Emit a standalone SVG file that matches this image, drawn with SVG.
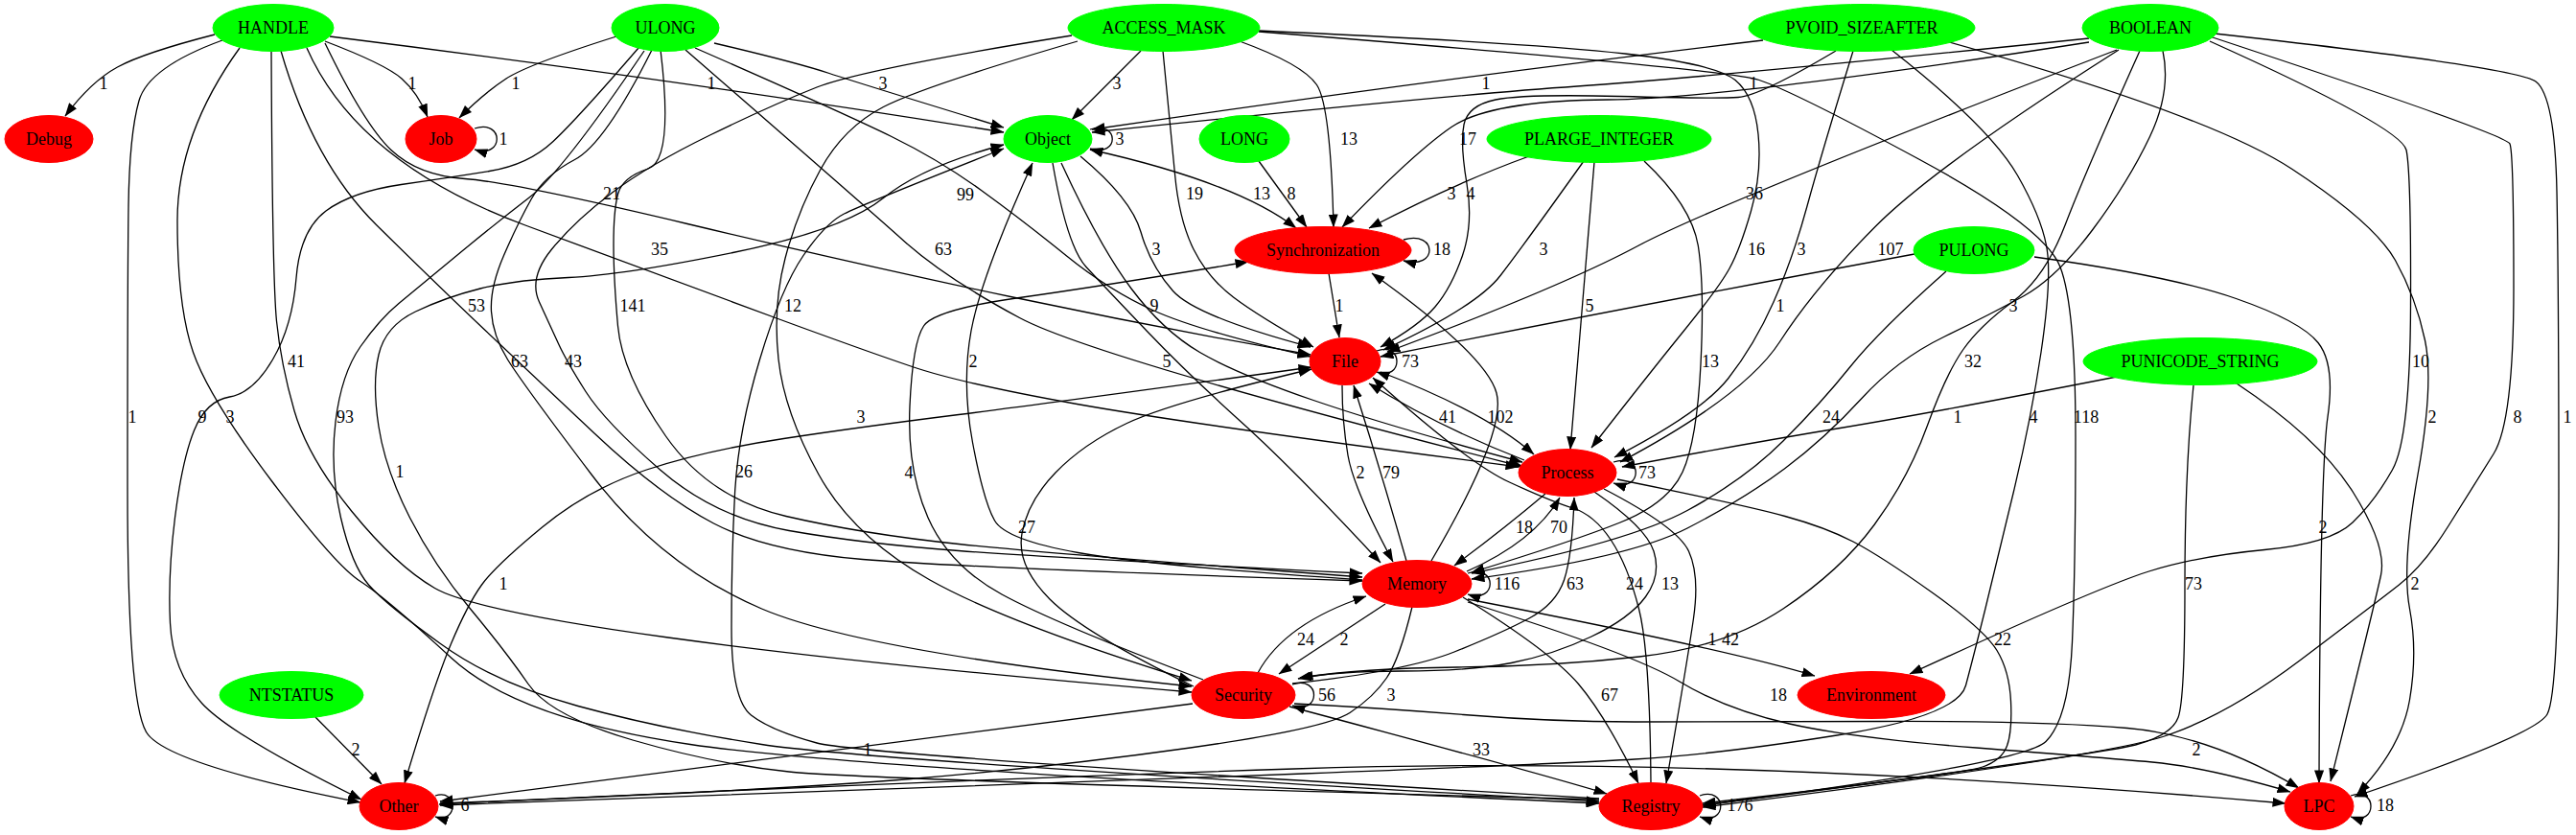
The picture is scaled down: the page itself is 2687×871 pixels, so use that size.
<svg xmlns="http://www.w3.org/2000/svg" width="2687" height="871" viewBox="0 0 2687 871">
<defs>
<marker id="ah" markerUnits="userSpaceOnUse" markerWidth="14" markerHeight="10" viewBox="0 0 14 10" refX="13.5" refY="5" orient="auto-start-reverse"><path d="M0,0 L14,5 L0,10 z" fill="#000"/></marker>
<style>
.e path{fill:none;stroke:#000;stroke-width:1.3;marker-end:url(#ah)}
.e path.both{marker-start:url(#ah)}
.e path.nm{marker-end:none}
.e text{font-family:"Liberation Serif","Times New Roman",serif;font-size:18px;text-anchor:middle;fill:#000}
.n text{font-family:"Liberation Serif","Times New Roman",serif;font-size:18px;text-anchor:middle;fill:#000}
.g ellipse{fill:#00ff00;stroke:#00ff00}
.r ellipse{fill:#ff0000;stroke:#ff0000}
</style>
</defs>
<rect width="2687" height="871" fill="#fff"/>
<g id="edges" class="e">
<path d="M224,36 Q150,55 122.5,70 Q95,85 68,121"/>
<path d="M339,43 Q402,67 419,82 Q436,97 446,122"/>
<path d="M643,38 Q551,67 528,82 Q505,97 479,123"/>
<path d="M495,134 C526,124 526,166 495,156"/>
<path d="M344,38 Q720,85 1047,138"/>
<path d="M745,45 Q830,65 865,76.5 Q900,88 1047,133"/>
<path d="M1190,53 L1118,125"/>
<path d="M1839,42 Q1500,82 1139,135"/>
<path d="M2179,40 Q1790,80 1645,90 Q1500,100 1139,138"/>
<path d="M1137,135 C1168,125 1168,165 1137,155"/>
<path d="M1293,43 Q1359,67 1373.5,88.5 Q1388,110 1391,237"/>
<path class="both" d="M1137,156 Q1290,190 1352,238"/>
<path d="M1313,168 L1363,237"/>
<path d="M1595,163 Q1520,190 1428,238"/>
<path d="M2179,44 Q1800,103 1677,104 Q1554,105 1514,132.5 Q1474,160 1400,237"/>
<path d="M1213,53 Q1221,133 1225.5,181.5 Q1230,230 1245,260 Q1260,290 1286.5,310 Q1313,330 1370,362"/>
<path d="M1313,32 Q1600,45 1695,56 Q1790,67 1810,83.5 Q1830,100 1834,140 Q1838,180 1826.5,220 Q1815,260 1804,280 Q1793,300 1756.5,345 Q1720,390 1660,467"/>
<path d="M1933,53 Q1900,160 1885,215 Q1870,270 1850,315 Q1830,360 1802.5,395 Q1775,430 1684,477"/>
<path d="M2210,52 Q2019,173 1956,236.5 Q1893,300 1856.5,356.5 Q1820,413 1690,482"/>
<path d="M2208,52 Q1790,213 1708.5,256.5 Q1627,300 1447,367"/>
<path d="M1652,168 Q1590,255 1565,287.5 Q1540,320 1443,365"/>
<path d="M1915,53 Q1836,100 1813,101.5 Q1790,103 1689.5,100.5 Q1589,98 1560,104 Q1531,110 1527,130 Q1523,150 1530,191.5 Q1537,233 1525.5,266.5 Q1514,300 1497,320 Q1480,340 1440,362"/>
<path d="M1386,285 L1397,352"/>
<path d="M1464,250 C1500,240 1500,282 1464,272"/>
<path d="M1127,163 Q1180,207 1190,242 Q1200,277 1223.5,303.5 Q1247,330 1367,362"/>
<path d="M1098,170 Q1113,257 1133,278.5 Q1153,300 1196,345 Q1239,390 1294.5,440 Q1350,490 1440,587"/>
<path d="M1107,170 Q1147,257 1180,301 Q1213,345 1251.5,367.5 Q1290,390 1370,417.5 Q1450,445 1588,482"/>
<path d="M1400,402 Q1400,440 1406,475 Q1412,510 1453,586"/>
<path d="M1467,585 Q1440,490 1412,402"/>
<path d="M1590,480 Q1500,445 1428,400"/>
<path d="M1440,388 Q1550,430 1600,474"/>
<path d="M1493,585 Q1572,450 1561,410 Q1550,370 1431,285"/>
<path d="M1436,366 C1464,356 1464,398 1436,388"/>
<path d="M1683,482 C1714,472 1714,514 1683,504"/>
<path d="M1531,598 C1562,588 1562,630 1531,620"/>
<path d="M1348,714 C1378,704 1378,746 1348,736"/>
<path d="M1773,830 C1802,820 1802,862 1773,852"/>
<path d="M2452,830 C2480,820 2480,862 2452,852"/>
<path d="M454,830 C478,822 478,860 454,852"/>
<path d="M1612,515 Q1567,553 1517,590"/>
<path d="M1530,596 Q1600,565 1627,519"/>
<path d="M1348,713 Q1467,700 1517,680 Q1567,660 1595,645 Q1623,630 1631.5,605 Q1640,580 1642,519"/>
<path d="M1663,513 Q1717,550 1725,575 Q1733,600 1716.5,622.5 Q1700,645 1660,664 Q1620,683 1576.5,691.5 Q1533,700 1463,700 Q1393,700 1354,708"/>
<path d="M1445,630 L1334,703"/>
<path d="M1312,702 Q1340,650 1425,622"/>
<path d="M1473,633 Q1460,687 1446.5,707 Q1433,727 1408,743.5 Q1383,760 1241.5,780 Q1100,800 950,812.5 Q800,825 459,838"/>
<path d="M1244,734 Q900,777 459,836"/>
<path d="M1973,52 Q2076,133 2104.5,183 Q2133,233 2136,266.5 Q2139,300 2129,367.5 Q2119,435 2100.5,512.5 Q2082,590 2070.5,636.5 Q2059,683 2050.5,715 Q2042,747 1916,767 Q1790,787 1705,792 Q1620,797 1360,807 Q1100,817 459,840"/>
<path d="M1345,737 Q1600,805 1676,828"/>
<path d="M1526,623 Q1618,680 1646.5,713.5 Q1675,747 1709,817"/>
<path d="M1673,510 Q1750,550 1761.5,575 Q1773,600 1766.5,645 Q1760,690 1738,817"/>
<path d="M1722,817 Q1721,680 1709.5,635 Q1698,590 1680.5,563.5 Q1663,537 1640.5,530 Q1618,523 1574.5,503 Q1531,483 1432,394"/>
<path d="M1687,500 Q1820,527 1862,538.5 Q1904,550 1933,565 Q1962,580 2016,618.5 Q2070,657 2083,678.5 Q2096,700 2097.5,731.5 Q2099,763 2093.5,778 Q2088,793 2068,800 Q2048,807 1776,838"/>
<path d="M1531,625 Q1800,677 1893,705"/>
<path d="M1531,628 Q1704,682 1752,711 Q1800,740 1866.5,755 Q1933,770 2061.5,780 Q2190,790 2245,795 Q2300,800 2389,826"/>
<path d="M1350,734 Q1433,738 1526.5,745.5 Q1620,753 1705,753 Q1790,753 1961.5,752.5 Q2133,752 2219,759.5 Q2305,767 2398,822"/>
<path d="M458,839 Q900,817 1350,802 Q1800,787 2384,838"/>
<path d="M2208,393 Q2019,430 1919.5,446.5 Q1820,463 1692,487"/>
<path d="M2288,402 Q2279,490 2279,610 Q2279,730 2272,748.5 Q2265,767 2227.5,777 Q2190,787 1776,840"/>
<path d="M2333,400 Q2419,457 2454.5,513.5 Q2490,570 2483.5,600 Q2477,630 2431,815"/>
<path d="M2030,43 Q2305,120 2391,176.5 Q2477,233 2498.5,271.5 Q2520,310 2529.5,355 Q2539,400 2522,495 Q2505,590 2513.5,635 Q2522,680 2513.5,730 Q2505,780 2459,828"/>
<path d="M2122,268 Q2265,288 2332.5,311.5 Q2400,335 2418,357.5 Q2436,380 2428,435 Q2420,490 2419,817"/>
<path d="M1997,265 Q1700,320 1440,372"/>
<path d="M2030,283 Q1960,345 1930,382.5 Q1900,420 1860,460 Q1820,500 1760,532.5 Q1700,565 1535,598"/>
<path d="M1663,169 Q1650,330 1638,469"/>
<path d="M1715,168 Q1765,215 1771.5,257.5 Q1778,300 1774,380 Q1770,460 1755,492.5 Q1740,525 1690,545 Q1640,565 1535,597"/>
<path d="M2256,53 Q2265,95 2242.5,142.5 Q2220,190 2182.5,240 Q2145,290 2110.5,309 Q2076,328 2027.5,351.5 Q1979,375 1941.5,416 Q1904,457 1862,488.5 Q1820,520 1760,551 Q1700,582 1535,604"/>
<path d="M2232,53 Q2175,180 2154,235 Q2133,290 2099,315 Q2065,340 2047.5,365 Q2030,390 2010,445 Q1990,500 1955,547.5 Q1920,595 1860,635 Q1800,675 1710,685 Q1620,695 1520,696 Q1420,697 1356,707"/>
<path d="M2305,43 Q2505,133 2510,156.5 Q2515,180 2514.5,318.5 Q2514,457 2495.5,490 Q2477,523 2454,545 Q2431,567 2362,573.5 Q2293,580 2241.5,596 Q2190,612 1992,703"/>
<path d="M2305,38 Q2614,140 2618,150 Q2622,160 2622,300 Q2622,440 2601,473.5 Q2580,507 2554,548.5 Q2528,590 2502.5,610 Q2477,630 2399.5,688.5 Q2322,747 2256,768.5 Q2190,790 1776,842"/>
<path d="M2310,35 Q2625,70 2645,85 Q2665,100 2667,200 Q2669,300 2669,511.5 Q2669,723 2657,745 Q2645,767 2456,831"/>
<path d="M1313,33 Q1800,72 1835,83.5 Q1870,95 2001.5,166 Q2133,237 2149,278.5 Q2165,320 2165,455 Q2165,590 2161.5,670 Q2158,750 2134,773.5 Q2110,797 1776,840"/>
<path d="M1255,709 Q1100,650 1045,620 Q990,590 968,540 Q946,490 949,423.5 Q952,357 963.5,340 Q975,323 1063.5,310.5 Q1152,298 1302,273"/>
<path d="M1245,716 Q1130,660 1095,625 Q1060,590 1066,556.5 Q1072,523 1101,493 Q1130,463 1175.5,441.5 Q1221,420 1368,385"/>
<path d="M1421,605 Q1200,590 1124.5,576.5 Q1049,563 1037.5,543 Q1026,523 1014.5,461.5 Q1003,400 1013,345 Q1023,290 1077,170"/>
<path class="both" d="M1368,383 Q1100,420 1000,432.5 Q900,445 817.5,457.5 Q735,470 674.5,490 Q614,510 565.5,550 Q517,590 502.5,610 Q488,630 470.5,671.5 Q453,713 422,817"/>
<path d="M1668,833 Q900,788 852,775 Q804,762 783.5,746 Q763,730 763,655 Q763,580 766.5,515 Q770,450 792.5,375 Q815,300 838,266.5 Q861,233 880.5,223 Q900,213 1047,155"/>
<path d="M1668,834 Q900,813 823,805 Q746,797 660,772 Q574,747 551,713.5 Q528,680 490.5,635 Q453,590 427.5,540 Q402,490 395,445 Q388,400 395,370 Q402,340 433.5,325 Q465,310 501,301 Q537,292 593,289.5 Q649,287 764.5,263.5 Q880,240 921.5,206.5 Q963,173 1047,151"/>
<path d="M232,42 Q155,70 145,105 Q135,140 134,215 Q133,290 133,510 Q133,730 152.5,763.5 Q172,797 376,837"/>
<path d="M250,50 Q185,140 185,230 Q185,320 201.5,367.5 Q218,415 284,502.5 Q350,590 376,606.5 Q402,623 471,686.5 Q540,750 720,776.5 Q900,803 1668,838"/>
<path d="M666,50 Q603,123 577,147.5 Q551,172 510.5,178.5 Q470,185 418.5,192.5 Q367,200 340,220 Q313,240 309,290 Q305,340 284.5,375 Q264,410 239.5,414 Q215,418 202.5,449 Q190,480 182.5,540 Q175,600 177.5,650 Q180,700 210.5,733.5 Q241,767 377,834"/>
<path d="M283,53 Q284,290 288.5,335 Q293,380 307,428.5 Q321,477 367,533.5 Q413,590 453.5,613.5 Q494,637 697,665 Q900,693 1243,722"/>
<path d="M672,53 Q586,180 551.5,206.5 Q517,233 476.5,266.5 Q436,300 416,316.5 Q396,333 376,361.5 Q356,390 350,440 Q344,490 355.5,540 Q367,590 384.5,610 Q402,630 459.5,671.5 Q517,713 603,736.5 Q689,760 794.5,776.5 Q900,793 1668,836"/>
<path d="M680,52 Q631,150 599.5,166.5 Q568,183 554,208 Q540,233 525.5,266.5 Q511,300 512.5,325 Q514,350 529.5,375 Q545,400 617,495 Q689,590 794.5,635 Q900,680 1243,716"/>
<path d="M689,52 Q703,167 676,176 Q649,185 644.5,202.5 Q640,220 640,255 Q640,290 644.5,340 Q649,390 694.5,455 Q740,520 820,538.5 Q900,557 1000,567.5 Q1100,578 1421,602"/>
<path d="M1118,37 Q900,72 852,91 Q804,110 740.5,141 Q677,172 638.5,201 Q600,230 575.5,260 Q551,290 562.5,315 Q574,340 582.5,358.5 Q591,377 611,408.5 Q631,440 688.5,490 Q746,540 823,553.5 Q900,567 1000,574.5 Q1100,582 1421,598"/>
<path d="M1124,43 Q963,90 921.5,111.5 Q880,133 856,176.5 Q832,220 819,269.5 Q806,319 812,374.5 Q818,430 854,495 Q890,560 970,605 Q1050,650 1243,710"/>
<path d="M339,45 Q380,130 408,156.5 Q436,183 485,186.5 Q534,190 717,233.5 Q900,277 1056.5,310 Q1213,343 1367,370"/>
<path d="M320,50 Q373,170 548,235 Q723,300 811.5,332.5 Q900,365 951.5,382.5 Q1003,400 1123.5,421.5 Q1244,443 1584,487"/>
<path d="M293,53 Q327,170 393,235 Q459,300 505,343.5 Q551,387 620,452 Q689,517 744.5,546 Q800,575 900,583.5 Q1000,592 1421,606"/>
<path d="M725,50 Q880,118 930,142.5 Q980,167 1023.5,198.5 Q1067,230 1112,266.5 Q1157,303 1203.5,324 Q1250,345 1367,372"/>
<path d="M715,52 Q900,213 943,251.5 Q986,290 1063.5,331.5 Q1141,373 1589,487"/>
<path d="M329,748 L398,818"/>
<text x="108" y="93">1</text><text x="430" y="93">1</text><text x="538" y="93">1</text><text x="742" y="93">1</text>
<text x="921" y="93">3</text><text x="1165" y="93">3</text><text x="1550" y="93">1</text><text x="1829" y="93">1</text>
<text x="525" y="151">1</text><text x="1168" y="151">3</text><text x="1407" y="151">13</text><text x="1531" y="151">17</text>
<text x="638" y="208">21</text><text x="1007" y="209">99</text><text x="1246" y="208">19</text><text x="1316" y="208">13</text>
<text x="1347" y="208">8</text><text x="1514" y="208">3</text><text x="1534" y="208">4</text><text x="1830" y="208">36</text>
<text x="688" y="266">35</text><text x="984" y="266">63</text><text x="1206" y="266">3</text><text x="1504" y="266">18</text>
<text x="1610" y="266">3</text><text x="1832" y="266">16</text><text x="1879" y="266">3</text><text x="1972" y="266">107</text>
<text x="497" y="325">53</text><text x="660" y="325">141</text><text x="827" y="325">12</text><text x="1397" y="325">1</text>
<text x="1204" y="325">9</text><text x="1658" y="325">5</text><text x="2100" y="325">3</text><text x="1857" y="325">1</text>
<text x="309" y="383">41</text><text x="542" y="383">63</text><text x="598" y="383">43</text><text x="1015" y="383">2</text>
<text x="1217" y="383">5</text><text x="1471" y="383">73</text><text x="1784" y="383">13</text><text x="2058" y="383">32</text>
<text x="2525" y="383">10</text>
<text x="138" y="441">1</text><text x="211" y="441">9</text><text x="240" y="441">3</text><text x="360" y="441">93</text>
<text x="898" y="441">3</text><text x="1510" y="441">41</text><text x="1565" y="441">102</text><text x="1910" y="441">24</text>
<text x="2042" y="441">1</text><text x="2121" y="441">4</text><text x="2176" y="441">118</text><text x="2537" y="441">2</text>
<text x="2626" y="441">8</text><text x="2678" y="441">1</text>
<text x="417" y="498">1</text><text x="776" y="498">26</text><text x="948" y="499">4</text><text x="1419" y="499">2</text>
<text x="1451" y="499">79</text><text x="1718" y="499">73</text>
<text x="1071" y="556">27</text><text x="1590" y="556">18</text><text x="1626" y="556">70</text><text x="2423" y="556">2</text>
<text x="525" y="615">1</text><text x="1572" y="615">116</text><text x="1643" y="615">63</text><text x="1705" y="615">24</text>
<text x="1742" y="615">13</text><text x="2288" y="615">73</text><text x="2519" y="615">2</text>
<text x="1362" y="673">24</text><text x="1402" y="673">2</text><text x="1786" y="673">1</text><text x="1805" y="673">42</text>
<text x="2089" y="673">22</text>
<text x="1384" y="731">56</text><text x="1451" y="731">3</text><text x="1855" y="731">18</text><text x="1679" y="731">67</text>
<text x="371" y="788">2</text><text x="905" y="788">1</text><text x="1545" y="788">33</text><text x="2291" y="788">2</text>
<text x="485" y="846">6</text><text x="1815" y="846">176</text><text x="2488" y="846">18</text>
</g>
<g id="node-HANDLE" class="n g"><ellipse cx="285" cy="29" rx="63" ry="24.5"/><text x="285" y="35">HANDLE</text></g>
<g id="node-ULONG" class="n g"><ellipse cx="694" cy="29" rx="56" ry="24.5"/><text x="694" y="35">ULONG</text></g>
<g id="node-ACCESS_MASK" class="n g"><ellipse cx="1214" cy="29" rx="100" ry="24.5"/><text x="1214" y="35">ACCESS_MASK</text></g>
<g id="node-PVOID_SIZEAFTER" class="n g"><ellipse cx="1942" cy="29" rx="118" ry="24.5"/><text x="1942" y="35">PVOID_SIZEAFTER</text></g>
<g id="node-BOOLEAN" class="n g"><ellipse cx="2243" cy="29" rx="71" ry="24.5"/><text x="2243" y="35">BOOLEAN</text></g>
<g id="node-Debug" class="n r"><ellipse cx="51" cy="145" rx="46" ry="24.5"/><text x="51" y="151">Debug</text></g>
<g id="node-Job" class="n r"><ellipse cx="460" cy="145" rx="37" ry="24.5"/><text x="460" y="151">Job</text></g>
<g id="node-Object" class="n g"><ellipse cx="1093" cy="145" rx="46" ry="24.5"/><text x="1093" y="151">Object</text></g>
<g id="node-LONG" class="n g"><ellipse cx="1298" cy="145" rx="47" ry="24.5"/><text x="1298" y="151">LONG</text></g>
<g id="node-PLARGE_INTEGER" class="n g"><ellipse cx="1668" cy="145" rx="117" ry="24.5"/><text x="1668" y="151">PLARGE_INTEGER</text></g>
<g id="node-Synchronization" class="n r"><ellipse cx="1380" cy="261" rx="92" ry="24.5"/><text x="1380" y="267">Synchronization</text></g>
<g id="node-PULONG" class="n g"><ellipse cx="2059" cy="261" rx="63" ry="24.5"/><text x="2059" y="267">PULONG</text></g>
<g id="node-File" class="n r"><ellipse cx="1403" cy="377" rx="37" ry="24.5"/><text x="1403" y="383">File</text></g>
<g id="node-PUNICODE_STRING" class="n g"><ellipse cx="2295" cy="377" rx="122" ry="24.5"/><text x="2295" y="383">PUNICODE_STRING</text></g>
<g id="node-Process" class="n r"><ellipse cx="1635" cy="493" rx="51" ry="24.5"/><text x="1635" y="499">Process</text></g>
<g id="node-Memory" class="n r"><ellipse cx="1478" cy="609" rx="57" ry="24.5"/><text x="1478" y="615">Memory</text></g>
<g id="node-NTSTATUS" class="n g"><ellipse cx="304" cy="725" rx="75" ry="24.5"/><text x="304" y="731">NTSTATUS</text></g>
<g id="node-Security" class="n r"><ellipse cx="1297" cy="725" rx="54" ry="24.5"/><text x="1297" y="731">Security</text></g>
<g id="node-Environment" class="n r"><ellipse cx="1952" cy="725" rx="77" ry="24.5"/><text x="1952" y="731">Environment</text></g>
<g id="node-Other" class="n r"><ellipse cx="416" cy="841" rx="41" ry="24.5"/><text x="416" y="847">Other</text></g>
<g id="node-Registry" class="n r"><ellipse cx="1722" cy="841" rx="54" ry="24.5"/><text x="1722" y="847">Registry</text></g>
<g id="node-LPC" class="n r"><ellipse cx="2419" cy="841" rx="36" ry="24.5"/><text x="2419" y="847">LPC</text></g>
</svg>
